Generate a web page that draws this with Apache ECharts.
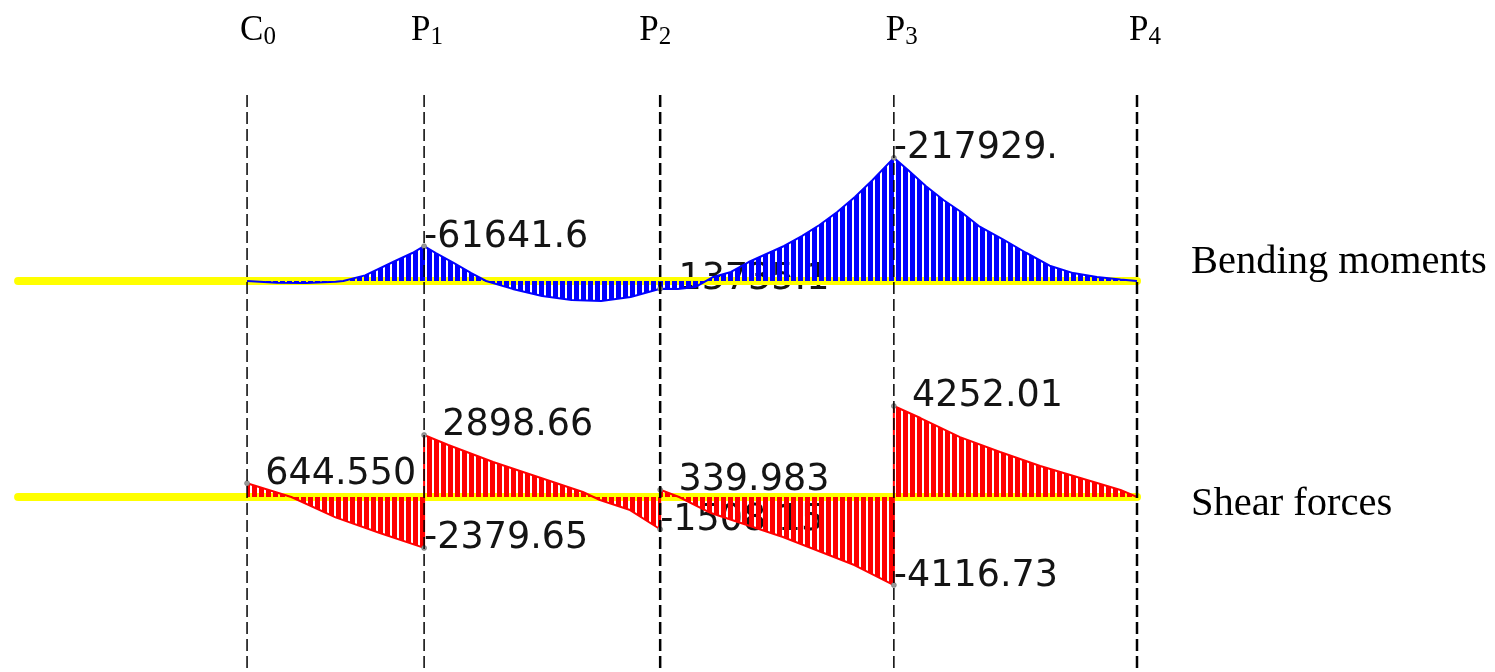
<!DOCTYPE html>
<html><head><meta charset="utf-8">
<script src="https://cdn.jsdelivr.net/npm/echarts@6/dist/echarts.min.js"></script>
<style>html,body{margin:0;padding:0;background:#fff}#c{width:1495px;height:672px}</style>
</head><body><div id="c"></div>
<script>
// ---------- data ----------
const supportNames = ['C', 'P', 'P', 'P', 'P'];
const supportSubs = ['0', '1', '2', '3', '4'];
const supportX = [0, 30, 70, 109.6, 150.8];
const beamStartX = -38.8;

// bending moments (negative drawn upward)
const bendX = [0, 5, 10, 15, 16.3, 20, 25, 28, 30, 32, 35, 38, 40.5, 45, 50, 55, 60, 65, 70,
  73, 76, 79, 82, 85, 88, 91, 94, 97, 100, 103, 106, 109.6,
  112, 115, 118, 121, 124, 128, 132, 136, 140, 144, 148, 150.8];
const bendM = [0, 3000, 3500, 1500, 0, -10000, -35000, -49500, -61641.6, -49500, -32000, -14000, 0, 14000, 26500, 33600, 35400, 28300, 13735.1,
  14200, 10600, -7100, -16000, -33600, -47800, -62000, -79600, -99100, -122100, -148700, -178800, -217929,
  -196500, -168100, -143400, -122100, -97300, -74300, -50000, -27000, -14000, -7100, -2700, 0];
const bendLabelX = [30, 70, 109.6];
const bendLabelV = [-61641.6, 13735.1, -217929];
const bendLabelText = ['-61641.6', '13735.1', '-217929.'];

// shear forces
const shearX = [0, 7.5, 15, 22.5, 30, 30, 34.1, 41.7, 49.3, 56.9, 59.8, 64.9, 70, 70, 73.2, 78.6, 90.8, 102.9, 109.6, 109.6,
  114.1, 120.8, 127.6, 134.4, 141.2, 148.0, 150.8];
const shearV = [644.55, 0, -950, -1680, -2379.65, 2898.66, 2430, 1635, 935, 234, -140, -610, -1508.15, 339.983, 0, -750, -1870, -3180, -4116.73, 4252.01,
  3690, 2800, 2100, 1450, 890, 330, 0];
const shearLabelX = [0, 30, 30, 70, 70, 109.6, 109.6];
const shearLabelV = [644.55, 2898.66, -2379.65, 339.983, -1508.15, 4252.01, -4116.73];
const shearLabelText = ['644.550', '2898.66', '-2379.65', '339.983', '-1508.15', '4252.01', '-4116.73'];

const diagramNames = ['Bending moments', 'Shear forces'];

// ---------- layout / style ----------
const topLabelDx = [-7, -13, -21, -8, -8];
const heavy = [false, false, true, false, true];

function hatch(color) {
  const c = document.createElement('canvas');
  c.width = 7; c.height = 4;
  const g = c.getContext('2d');
  g.fillStyle = color;
  g.fillRect(0, 0, 5, 4);
  return { image: c, repeat: 'repeat' };
}
const pair = (xs, ys) => xs.map((x, i) => [x, ys[i]]);
const fmtText = t => (t.charAt(0) === '-' ? t : '\u2002' + t);

const X = { type: 'value', min: -40, max: 150.8, show: false };
const grids = [
  { left: 11, right: 358, top: 139.75, height: 169.5 },
  { left: 11, right: 358, top: 390, height: 214 },
  { left: 11, right: 358, top: 95, bottom: 0 }
];
const xAxes = grids.map((g, i) => Object.assign({ gridIndex: i }, X));
const yAxes = [
  { gridIndex: 0, type: 'value', inverse: true, min: -250000, max: 50000, show: false },
  { gridIndex: 1, type: 'value', min: -5000, max: 5000, show: false },
  { gridIndex: 2, type: 'value', min: 0, max: 1, show: false }
];

const series = [];
function diagram(idx, xs, vs, color, lx, lv, lt) {
  series.push({
    type: 'scatter', xAxisIndex: idx, yAxisIndex: idx, z: 1, symbolSize: 0,
    data: pair(lx, lv), silent: true,
    itemStyle: { opacity: 1 },
    label: {
      show: true, position: 'right', distance: 0, offset: [0, -9], opacity: 1,
      formatter: p => fmtText(lt[p.dataIndex]),
      fontFamily: 'DejaVu Sans', fontSize: 36.5, color: '#141414'
    }
  });
  series.push({
    type: 'line', xAxisIndex: idx, yAxisIndex: idx, z: 2, showSymbol: false, silent: true,
    data: [[beamStartX, 0], [supportX[supportX.length - 1], 0]],
    lineStyle: { color: '#ffff00', width: 8, cap: 'round' }
  });
  series.push({
    type: 'line', xAxisIndex: idx, yAxisIndex: idx, z: 3, showSymbol: false, silent: true,
    data: pair(xs, vs),
    lineStyle: { color: color, width: 2 },
    areaStyle: { color: hatch(color), opacity: 1 }
  });
  series.push({
    type: 'scatter', xAxisIndex: idx, yAxisIndex: idx, z: 4, symbolSize: 5, silent: true,
    data: pair(lx, lv),
    itemStyle: { color: '#9a9a9a', borderColor: '#666', borderWidth: 0.5, opacity: 1 }
  });
}
diagram(0, bendX, bendM, '#0000ff', bendLabelX, bendLabelV, bendLabelText);
diagram(1, shearX, shearV, '#ff0000', shearLabelX, shearLabelV, shearLabelText);

supportX.forEach((x, i) => {
  series.push({
    type: 'line', xAxisIndex: 2, yAxisIndex: 2, z: 5, showSymbol: false, silent: true,
    data: [[x, 1], [x, 0]],
    lineStyle: { color: '#000', width: heavy[i] ? 2.5 : 1.5, type: [12, 5] }
  });
});
series.push({
  type: 'scatter', xAxisIndex: 2, yAxisIndex: 2, z: 5, symbolSize: 1, silent: true,
  itemStyle: { color: 'rgba(0,0,0,0)', opacity: 1 },
  data: supportX.map((x, i) => ({
    value: [x, 1],
    label: { offset: [topLabelDx[i], -64] }
  })),
  label: {
    show: true, position: 'top', distance: 0, align: 'left', verticalAlign: 'middle',
    formatter: p => '{m|' + supportNames[p.dataIndex] + '}{s|' + supportSubs[p.dataIndex] + '}',
    rich: {
      m: { fontFamily: 'Liberation Serif', fontSize: 35, lineHeight: 38, color: '#000' },
      s: { fontFamily: 'Liberation Serif', fontSize: 25, lineHeight: 12, verticalAlign: 'bottom', color: '#000' }
    }
  }
});

const chart = echarts.init(document.getElementById('c'), null, { renderer: 'canvas' });
chart.setOption({
  animation: false,
  backgroundColor: '#fff',
  title: [
    { text: diagramNames[0], left: 1191, top: 242, padding: 0,
      textStyle: { fontFamily: 'Liberation Serif', fontSize: 40.5, fontWeight: 'normal', color: '#000', lineHeight: 40 } },
    { text: diagramNames[1], left: 1191, top: 484, padding: 0,
      textStyle: { fontFamily: 'Liberation Serif', fontSize: 40.5, fontWeight: 'normal', color: '#000', lineHeight: 40 } }
  ],
  grid: grids,
  xAxis: xAxes,
  yAxis: yAxes,
  series: series
});
</script>
</body></html>
